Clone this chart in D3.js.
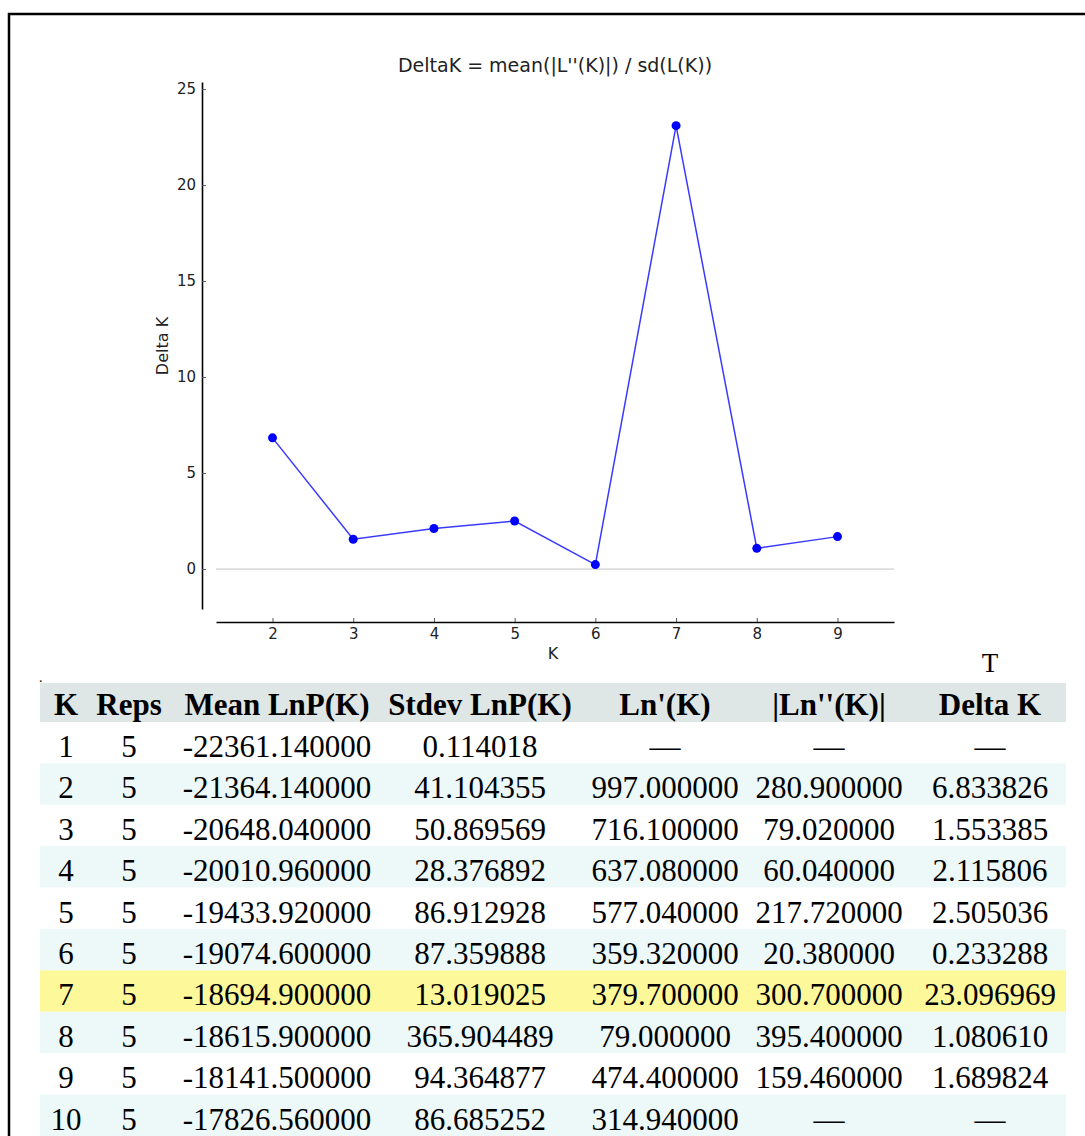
<!DOCTYPE html>
<html>
<head>
<meta charset="utf-8">
<title>DeltaK</title>
<script src="https://d3js.org/d3.v7.min.js"></script>
<style>
body { margin: 0; background: #fff; }
svg { display: block; }
.axis text { font-family: "DejaVu Sans", sans-serif; font-size: 15px; fill: #222; }
.axis .tick line { stroke: #555; }
.axis path { stroke: #000; stroke-width: 1.6; }
.tbl text { font-family: "Liberation Serif", "Times New Roman", serif; font-size: 31px; fill: #000; }
.tbl .head { font-weight: bold; }
</style>
</head>
<body>
<svg width="1085" height="1136"></svg>
<script>

// table / chart data
var kValues = [1, 2, 3, 4, 5, 6, 7, 8, 9, 10];
var reps = [5, 5, 5, 5, 5, 5, 5, 5, 5, 5];
var meanLnP = [-22361.14, -21364.14, -20648.04, -20010.96, -19433.92, -19074.6, -18694.9, -18615.9, -18141.5, -17826.56];
var stdevLnP = [0.114018, 41.104355, 50.869569, 28.376892, 86.912928, 87.359888, 13.019025, 365.904489, 94.364877, 86.685252];
var lnPrime = [null, 997.0, 716.1, 637.08, 577.04, 359.32, 379.7, 79.0, 474.4, 314.94];
var lnDoublePrime = [null, 280.9, 79.02, 60.04, 217.72, 20.38, 300.7, 395.4, 159.46, null];
var deltaK = [null, 6.833826, 1.553385, 2.115806, 2.505036, 0.233288, 23.096969, 1.08061, 1.689824, null];

var headers = ["K", "Reps", "Mean LnP(K)", "Stdev LnP(K)", "Ln'(K)", "|Ln''(K)|", "Delta K"];
var yTicks = [0, 5, 10, 15, 20, 25];
var xTicks = [2, 3, 4, 5, 6, 7, 8, 9];

var svg = d3.select("svg");

// frame
svg.append("rect")
    .attr("x", 9).attr("y", 14)
    .attr("width", 1100).attr("height", 1150)
    .attr("fill", "none")
    .attr("stroke", "#000")
    .attr("stroke-width", 2.5);

// ---- chart ----
var x = d3.scaleLinear().domain([1.3, 9.7]).range([216, 894]);
var y = d3.scaleLinear().domain([-2.08, 25.37]).range([609, 82]);

var pts = kValues.map(function(k, i) { return {k: k, v: deltaK[i]}; })
    .filter(function(d) { return d.v != null; });

svg.append("text")
    .attr("x", 555).attr("y", 72)
    .attr("text-anchor", "middle")
    .style("font-family", "DejaVu Sans, sans-serif")
    .style("font-size", "19px")
    .style("fill", "#222")
    .text("DeltaK = mean(|L''(K)|) / sd(L(K))");

// zero line
svg.append("line")
    .attr("x1", x.range()[0]).attr("x2", x.range()[1])
    .attr("y1", y(0)).attr("y2", y(0))
    .attr("stroke", "#cfcfcf").attr("stroke-width", 1.2);

svg.append("g")
    .attr("class", "axis")
    .attr("transform", "translate(202,0)")
    .call(d3.axisLeft(y).tickValues(yTicks).tickSize(-4).tickSizeOuter(0).tickPadding(6));

svg.append("g")
    .attr("class", "axis")
    .attr("transform", "translate(0,622)")
    .call(d3.axisBottom(x).tickValues(xTicks).tickSize(-4).tickSizeOuter(0).tickPadding(6));

svg.append("text")
    .attr("transform", "translate(168,346) rotate(-90)")
    .attr("text-anchor", "middle")
    .style("font-family", "DejaVu Sans, sans-serif")
    .style("font-size", "16px")
    .style("fill", "#222")
    .text("Delta K");

svg.append("text")
    .attr("x", 553).attr("y", 659)
    .attr("text-anchor", "middle")
    .style("font-family", "DejaVu Sans, sans-serif")
    .style("font-size", "16px")
    .style("fill", "#222")
    .text("K");

var line = d3.line()
    .x(function(d) { return x(d.k); })
    .y(function(d) { return y(d.v); });

svg.append("path")
    .datum(pts)
    .attr("d", line)
    .attr("fill", "none")
    .attr("stroke", "#3a3aff")
    .attr("stroke-width", 1.5);

svg.selectAll("circle.pt")
    .data(pts)
  .enter().append("circle")
    .attr("class", "pt")
    .attr("cx", function(d) { return x(d.k); })
    .attr("cy", function(d) { return y(d.v); })
    .attr("r", 4.5)
    .attr("fill", "#0000ff");

// stray marks above the table
svg.append("text")
    .attr("x", 990).attr("y", 672)
    .attr("text-anchor", "middle")
    .style("font-family", "Liberation Serif, serif")
    .style("font-size", "27px")
    .text("T");

svg.append("text")
    .attr("x", 39).attr("y", 682)
    .style("font-family", "Liberation Serif, serif")
    .style("font-size", "14px")
    .text(".");

// ---- table ----
var colX = [66, 129, 277, 480, 665, 829, 990];
var tblLeft = 40, tblRight = 1066;
var rows = d3.scaleBand().domain(kValues).range([722, 1136]);

var tbl = svg.append("g").attr("class", "tbl");

tbl.append("rect")
    .attr("x", tblLeft).attr("y", 683)
    .attr("width", tblRight - tblLeft).attr("height", 39)
    .attr("fill", "#dfe6e6");

tbl.selectAll("rect.row")
    .data(kValues)
  .enter().append("rect")
    .attr("class", "row")
    .attr("x", tblLeft)
    .attr("y", function(k) { return rows(k); })
    .attr("width", tblRight - tblLeft)
    .attr("height", rows.bandwidth())
    .attr("fill", function(k) {
      if (k === 7) return "#fdf99b";
      return (k % 2 === 0) ? "#edf8f8" : "#ffffff";
    });

tbl.selectAll("text.head")
    .data(headers)
  .enter().append("text")
    .attr("class", "head")
    .attr("x", function(d, i) { return colX[i]; })
    .attr("y", 715)
    .attr("text-anchor", "middle")
    .text(function(d) { return d; });

function fmt(v) { return v == null ? "\u2014" : v.toFixed(6); }

var cells = [];
kValues.forEach(function(k, i) {
  var vals = [String(k), String(reps[i]), fmt(meanLnP[i]), fmt(stdevLnP[i]),
              fmt(lnPrime[i]), fmt(lnDoublePrime[i]), fmt(deltaK[i])];
  vals.forEach(function(t, j) { cells.push({k: k, col: j, t: t}); });
});

tbl.selectAll("text.cell")
    .data(cells)
  .enter().append("text")
    .attr("class", "cell")
    .attr("x", function(d) { return colX[d.col]; })
    .attr("y", function(d) { return rows(d.k) + 35; })
    .attr("text-anchor", "middle")
    .text(function(d) { return d.t; });

</script>
</body>
</html>
